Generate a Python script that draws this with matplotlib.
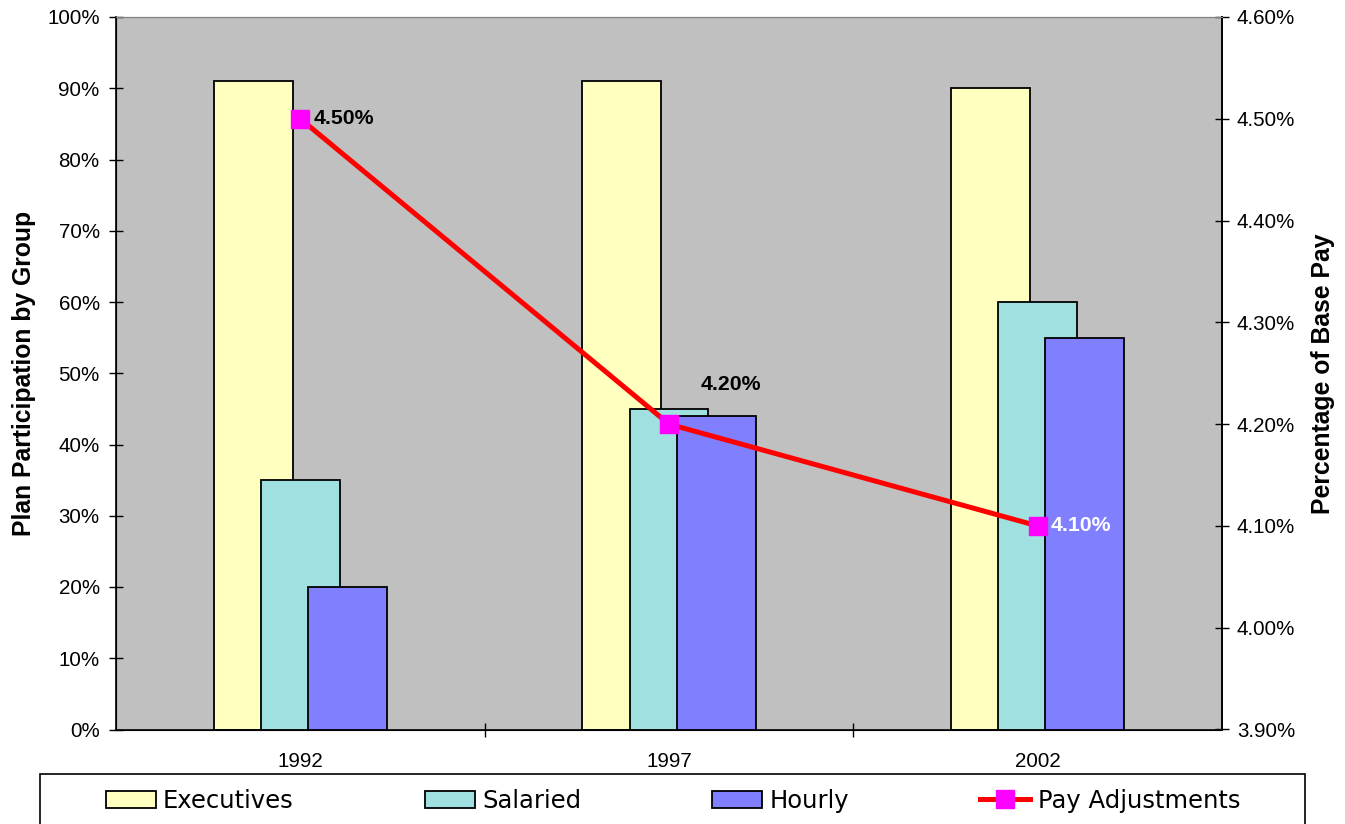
import matplotlib.pyplot as plt
import numpy as np
from matplotlib.patches import Rectangle
from matplotlib.ticker import FuncFormatter, MultipleLocator

years = ["1992", "1997", "2002"]
executives = [91, 91, 90]
salaried = [35, 45, 60]
hourly = [20, 44, 55]
pay_adjustments = [4.50, 4.20, 4.10]

plt.rcParams['font.family'] = ['Liberation Sans', 'DejaVu Sans']

fig = plt.figure(figsize=(13.45, 8.24), dpi=100)
ax = fig.add_axes([116/1345, 1 - 729.5/824, (1222 - 116)/1345, (729.5 - 17)/824])
ax.set_facecolor('#C0C0C0')

x = np.arange(len(years))
w = 0.214
step = 0.128
b1 = ax.bar(x - step, executives, w, color='#FFFFC0', edgecolor='black', linewidth=1.3, zorder=2, label='Executives')
b2 = ax.bar(x, salaried, w, color='#A0E0E0', edgecolor='black', linewidth=1.3, zorder=3, label='Salaried')
b3 = ax.bar(x + step, hourly, w, color='#8080FF', edgecolor='black', linewidth=1.3, zorder=4, label='Hourly')

ax.set_xlim(-0.5, 2.5)
ax.set_ylim(0, 100)
ax.yaxis.set_major_locator(MultipleLocator(10))
ax.yaxis.set_major_formatter(FuncFormatter(lambda v, p: f"{v:.0f}%"))
ax.set_xticks(x)
ax.set_xticklabels(years)
ax.set_xticks([0.5, 1.5], minor=True)
ax.tick_params(axis='x', which='major', length=0, pad=16, labelsize=14.8)
ax.tick_params(axis='x', which='minor', direction='inout', length=10, width=1)
ax.tick_params(axis='y', direction='inout', length=9.5, width=1, pad=7, labelsize=14.8)
ax.spines['top'].set_color('#808080')
for s in ['left', 'bottom', 'right']:
    ax.spines[s].set_linewidth(1.2)
ax.set_ylabel('Plan Participation by Group', fontsize=17.8, fontweight='bold', labelpad=8)

ax2 = ax.twinx()
ax2.set_ylim(3.90, 4.60)
ax2.yaxis.set_major_locator(MultipleLocator(0.10))
ax2.yaxis.set_major_formatter(FuncFormatter(lambda v, p: f"{v:.2f}%"))
ax2.tick_params(axis='y', direction='inout', length=9.5, width=1, pad=6, labelsize=14.8)
ax2.spines['top'].set_color('#808080')
ax2.spines['right'].set_linewidth(1.2)
ax2.set_ylabel('Percentage of Base Pay', fontsize=17.8, fontweight='bold', labelpad=11)

line, = ax2.plot(x, pay_adjustments, color='#FF0000', linewidth=3.6, marker='s',
                 markersize=13.5, markerfacecolor='#FF00FF', markeredgecolor='#FF00FF',
                 zorder=5, label='Pay Adjustments')

# value labels for the pay adjustment line
offsets = [(13, 0), (32, 40), (13, 0)]
colors = ['black', 'black', 'white']
for xi, v, off, c in zip(x, pay_adjustments, offsets, colors):
    ax2.annotate(f"{v:.2f}%", (xi, v), xytext=off, textcoords='offset pixels',
                 ha='left', va='center', fontsize=15.3, fontweight='bold', color=c, zorder=6)

# legend frame along the bottom
fig.patches.append(Rectangle((40/1345, -0.02), (1305 - 40)/1345, 0.02 + (824 - 774)/824,
                             transform=fig.transFigure, facecolor='white',
                             edgecolor='black', linewidth=1.2, zorder=0))
fig.legend([b1, b2, b3, line], ['Executives', 'Salaried', 'Hourly', 'Pay Adjustments'],
           loc='center', ncol=4, mode='expand', frameon=False,
           bbox_to_anchor=(106/1345, 1 - 801/824, (1240 - 106)/1345, 0.0),
           prop={'family': 'DejaVu Sans', 'size': 17.5},
           handlelength=2.05, handleheight=0.75, handletextpad=0.3, borderaxespad=0, borderpad=0)

fig.savefig('out.png', dpi=100)
